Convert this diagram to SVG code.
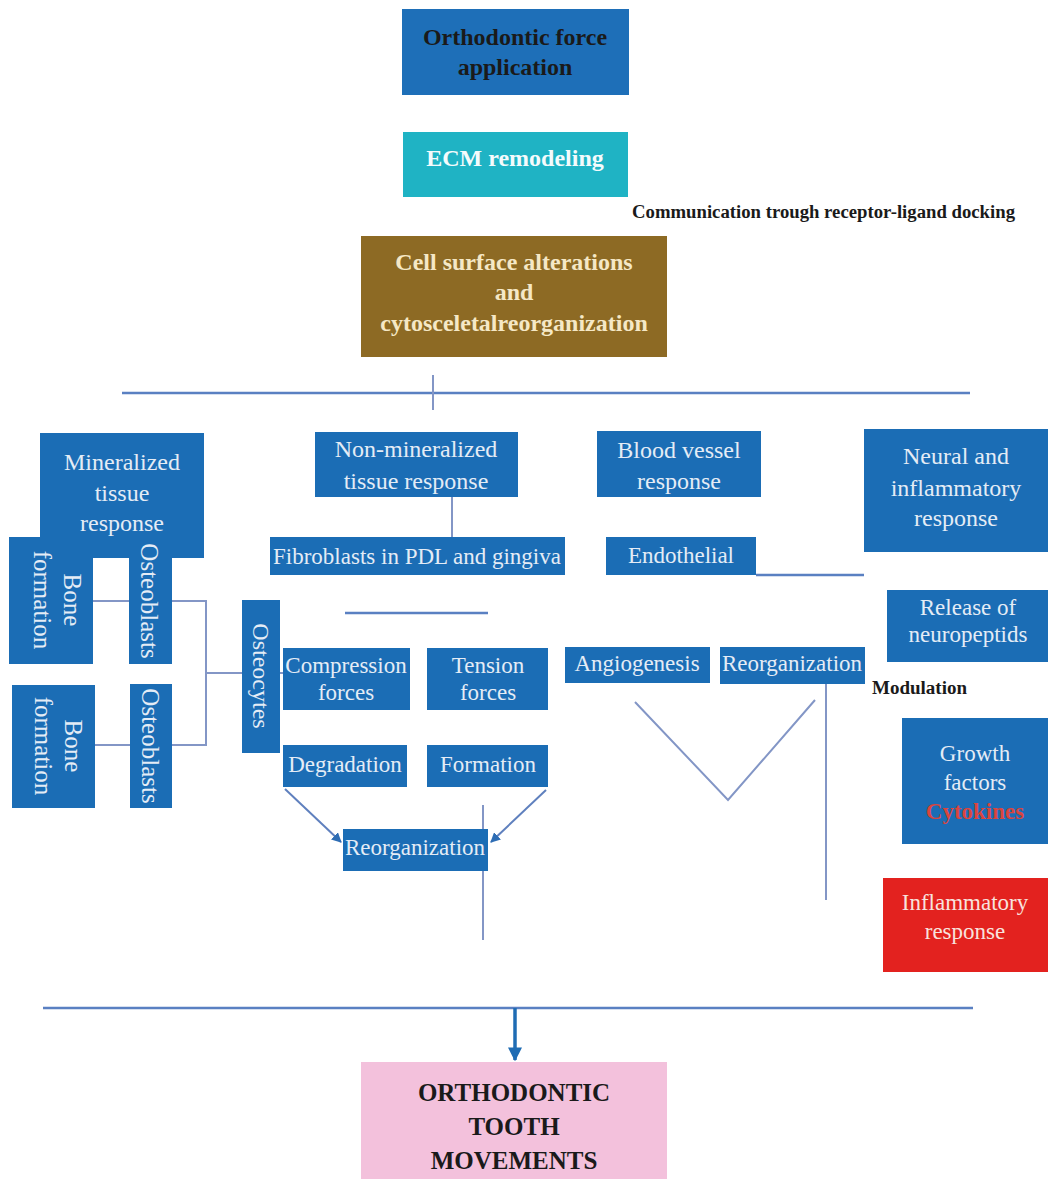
<svg xmlns="http://www.w3.org/2000/svg" width="1048" height="1179" viewBox="0 0 1048 1179">
<style>
.bg{fill:#ffffff}
.bx{fill:#1b6db5}
.t{font-family:"Liberation Serif","Times New Roman",serif;fill:#e4ecf6;text-anchor:middle}
.h{font-size:24px}
.s{font-size:23px}
.r{font-size:25px}
.k{font-family:"Liberation Serif","Times New Roman",serif;font-weight:bold;fill:#1a1a1a}
.ln{stroke:#8396c6;stroke-width:2;fill:none}
.big{stroke:#5a80c2;stroke-width:2.5;fill:none}
.arr{stroke:#5f80be;stroke-width:2;fill:none;marker-end:url(#ah)}
</style>
<defs>
<marker id="ah" viewBox="0 0 10 10" refX="9" refY="5" markerWidth="5" markerHeight="5" orient="auto" markerUnits="strokeWidth">
<path d="M0,0 L10,5 L0,10 z" fill="#2e6db4"/>
</marker>
<marker id="ah2" viewBox="0 0 10 10" refX="9" refY="5" markerWidth="4" markerHeight="4" orient="auto" markerUnits="strokeWidth">
<path d="M0,0 L10,5 L0,10 z" fill="#1f6cb4"/>
</marker>
</defs>
<rect class="bg" x="0" y="0" width="1048" height="1179"/>

<g id="connectors">
<line class="big" x1="122" y1="393" x2="970" y2="393"/>
<line class="ln" x1="433" y1="375" x2="433" y2="410"/>
<line class="ln" x1="452" y1="497" x2="452" y2="537"/>
<line class="ln" x1="93" y1="601" x2="130" y2="601"/>
<line class="ln" x1="172" y1="601" x2="206" y2="601"/>
<line class="ln" x1="95" y1="745" x2="130" y2="745"/>
<line class="ln" x1="172" y1="745" x2="206" y2="745"/>
<line class="ln" x1="206" y1="600" x2="206" y2="746"/>
<line class="ln" x1="206" y1="673" x2="284" y2="673"/>
<line class="big" x1="345" y1="613" x2="488" y2="613"/>
<line class="big" x1="756" y1="575" x2="864" y2="575"/>
<line class="arr" x1="285" y1="789" x2="341" y2="842"/>
<line class="arr" x1="546" y1="790" x2="491" y2="842"/>
<line class="ln" x1="483" y1="805" x2="483" y2="940"/>
<polyline class="ln" points="635,702 728,800 815,700"/>
<line class="ln" x1="826" y1="684" x2="826" y2="900"/>
<line class="big" x1="43" y1="1008" x2="973" y2="1008"/>
<line x1="515" y1="1008" x2="515" y2="1060" stroke="#1f6cb4" stroke-width="3.5" marker-end="url(#ah2)"/>
</g>

<g id="orthodontic-force">
<rect x="402" y="9" width="227" height="86" fill="#1e6fb8"/>
<text class="k" x="515" y="45" font-size="24" text-anchor="middle">Orthodontic force</text>
<text class="k" x="515" y="75" font-size="24" text-anchor="middle">application</text>
</g>

<g id="ecm-remodeling">
<rect x="403" y="132" width="225" height="65" fill="#1fb3c4"/>
<text x="515" y="166" font-family="Liberation Serif, serif" font-weight="bold" font-size="24" fill="#f4fbfc" text-anchor="middle">ECM remodeling</text>
</g>

<g id="communication-label">
<text class="k" x="632" y="218" font-size="18" textLength="383" lengthAdjust="spacingAndGlyphs">Communication trough receptor-ligand docking</text>
</g>

<g id="cell-surface">
<rect x="361" y="236" width="306" height="121" fill="#8d6a24"/>
<g font-family="Liberation Serif, serif" font-weight="bold" font-size="24" fill="#f5e8c6" text-anchor="middle">
<text x="514" y="270">Cell surface alterations</text>
<text x="514" y="300">and</text>
<text x="514" y="331">cytosceletalreorganization</text>
</g>
</g>

<g id="mineralized">
<rect class="bx" x="40" y="433" width="164" height="125"/>
<text class="t h" x="122" y="470">Mineralized</text>
<text class="t h" x="122" y="501">tissue</text>
<text class="t h" x="122" y="531">response</text>
</g>

<g id="bone-formation-1">
<rect class="bx" x="9" y="537" width="84" height="127"/>
<g transform="translate(51,600) rotate(90)">
<text class="t r" x="0" y="-13">Bone</text>
<text class="t r" x="0" y="17">formation</text>
</g>
</g>

<g id="osteoblasts-1">
<rect class="bx" x="129" y="540" width="43" height="124"/>
<text class="t r" transform="translate(150,601) rotate(90)" x="0" y="9">Osteoblasts</text>
</g>

<g id="bone-formation-2">
<rect class="bx" x="12" y="685" width="83" height="123"/>
<g transform="translate(53,746) rotate(90)">
<text class="t r" x="0" y="-12">Bone</text>
<text class="t r" x="0" y="18">formation</text>
</g>
</g>

<g id="osteoblasts-2">
<rect class="bx" x="130" y="684" width="42" height="124"/>
<text class="t r" transform="translate(151,746) rotate(90)" x="0" y="9">Osteoblasts</text>
</g>

<g id="osteocytes">
<rect class="bx" x="242" y="600" width="38" height="153"/>
<text class="t h" transform="translate(261,676) rotate(90)" x="0" y="8">Osteocytes</text>
</g>

<g id="non-mineralized">
<rect class="bx" x="315" y="432" width="203" height="65"/>
<text class="t h" x="416" y="457">Non-mineralized</text>
<text class="t h" x="416" y="489">tissue response</text>
</g>

<g id="fibroblasts">
<rect class="bx" x="270" y="537" width="295" height="38"/>
<text class="t s" x="417" y="564">Fibroblasts in PDL and gingiva</text>
</g>

<g id="compression">
<rect class="bx" x="283" y="648" width="127" height="62"/>
<text class="t s" x="346" y="673">Compression</text>
<text class="t s" x="346" y="700">forces</text>
</g>

<g id="tension">
<rect class="bx" x="427" y="648" width="121" height="62"/>
<text class="t s" x="488" y="673">Tension</text>
<text class="t s" x="488" y="700">forces</text>
</g>

<g id="degradation">
<rect class="bx" x="283" y="745" width="124" height="42"/>
<text class="t s" x="345" y="772">Degradation</text>
</g>

<g id="formation">
<rect class="bx" x="427" y="745" width="121" height="42"/>
<text class="t s" x="488" y="772">Formation</text>
</g>

<g id="reorganization-1">
<rect class="bx" x="343" y="829" width="145" height="42"/>
<text class="t s" x="415" y="855">Reorganization</text>
</g>

<g id="blood-vessel">
<rect class="bx" x="597" y="431" width="164" height="66"/>
<text class="t h" x="679" y="458">Blood vessel</text>
<text class="t h" x="679" y="489">response</text>
</g>

<g id="endothelial">
<rect class="bx" x="606" y="537" width="150" height="38"/>
<text class="t s" x="681" y="563">Endothelial</text>
</g>

<g id="angiogenesis">
<rect class="bx" x="565" y="647" width="145" height="36"/>
<text class="t s" x="637" y="671">Angiogenesis</text>
</g>

<g id="reorganization-2">
<rect class="bx" x="720" y="647" width="145" height="37"/>
<text class="t s" x="792" y="671">Reorganization</text>
</g>

<g id="neural">
<rect class="bx" x="864" y="429" width="184" height="123"/>
<text class="t h" x="956" y="464">Neural and</text>
<text class="t h" x="956" y="496">inflammatory</text>
<text class="t h" x="956" y="526">response</text>
</g>

<g id="neuropeptids">
<rect class="bx" x="887" y="590" width="161" height="72"/>
<text class="t s" x="968" y="615">Release of</text>
<text class="t s" x="968" y="642">neuropeptids</text>
</g>

<g id="modulation-label">
<text class="k" x="872" y="694" font-size="18" textLength="95" lengthAdjust="spacingAndGlyphs">Modulation</text>
</g>

<g id="growth-factors">
<rect class="bx" x="902" y="718" width="146" height="126"/>
<text class="t s" x="975" y="761">Growth</text>
<text class="t s" x="975" y="790">factors</text>
<text x="975" y="819" font-family="Liberation Serif, serif" font-size="23" font-weight="bold" fill="#d9453f" text-anchor="middle">Cytokines</text>
</g>

<g id="inflammatory">
<rect x="883" y="878" width="165" height="94" fill="#e3221f"/>
<text x="965" y="910" font-family="Liberation Serif, serif" font-size="23" fill="#f8e2de" text-anchor="middle">Inflammatory</text>
<text x="965" y="939" font-family="Liberation Serif, serif" font-size="23" fill="#f8e2de" text-anchor="middle">response</text>
</g>

<g id="tooth-movements">
<rect x="361" y="1062" width="306" height="117" fill="#f3c1dc"/>
<g font-family="Liberation Serif, serif" font-weight="bold" font-size="25" fill="#1a1a1a" text-anchor="middle">
<text x="514" y="1101">ORTHODONTIC</text>
<text x="514" y="1135">TOOTH</text>
<text x="514" y="1169">MOVEMENTS</text>
</g>
</g>
</svg>
